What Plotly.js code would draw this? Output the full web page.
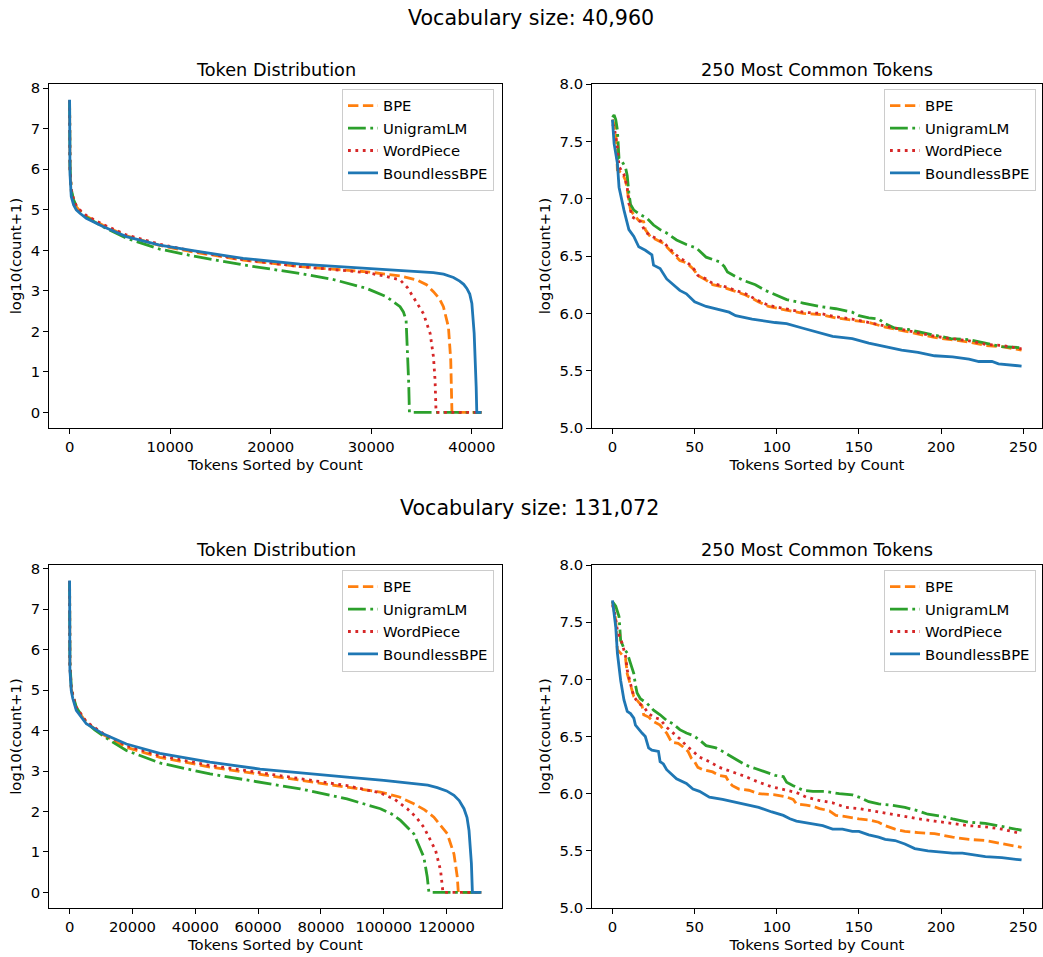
<!DOCTYPE html>
<html>
<head>
<meta charset="utf-8">
<script src="https://cdn.plot.ly/plotly-3.0.1.min.js"></script>
<style>
  html, body { margin: 0; padding: 0; background: #fff; }
  #chart { width: 1043px; height: 957px; }
</style>
</head>
<body>
<div id="chart"></div>
<script>
// ---------------- DATA ----------------
const seriesNames = ['BPE', 'UnigramLM', 'WordPiece', 'BoundlessBPE'];
const suptitles = ['Vocabulary size: 40,960', 'Vocabulary size: 131,072'];
const panelTitles = ['Token Distribution', '250 Most Common Tokens'];
const xLabel = 'Tokens Sorted by Count';
const yLabel = 'log10(count+1)';

// Vocabulary 40,960 - full token distribution
const v40_dist_bpe_x = [0,10,40,166,400,664,1000,1660,3320,5640,8960,12280,17260,22900,29550,32870,34530,35500,36190,36800,37180,37680,37910,38010,38030,40960];
const v40_dist_bpe_y = [7.7,6.7,6.0,5.45,5.22,5.08,4.98,4.84,4.62,4.36,4.12,3.96,3.76,3.60,3.47,3.37,3.27,3.15,2.98,2.80,2.61,2.11,1.29,0.21,0,0];
const v40_dist_uni_x = [0,10,40,166,400,664,1000,1660,3320,5640,8960,12280,17260,22900,26230,29550,31540,32870,33200,33470,33630,33730,33800,40960];
const v40_dist_uni_y = [7.7,6.7,6.1,5.5,5.25,5.1,4.98,4.82,4.58,4.30,4.03,3.86,3.64,3.43,3.28,3.06,2.85,2.61,2.48,2.28,1.53,0.71,0,0];
const v40_dist_wp_x  = [0,10,40,166,400,664,1000,1660,3320,5640,8960,12280,17260,22900,29550,31210,32870,33600,34200,35190,35860,36190,36350,36450,40960];
const v40_dist_wp_y  = [7.7,6.7,6.0,5.5,5.25,5.1,5.0,4.86,4.64,4.38,4.15,3.98,3.77,3.60,3.45,3.37,3.27,3.08,2.85,2.44,1.95,1.37,0.79,0,0];
const v40_dist_bbpe_x = [0,10,40,166,400,664,1000,1660,3320,5640,8960,12280,17260,22900,29550,33500,36190,37200,38180,38800,39200,39510,39800,40010,40240,40440,40500,40960];
const v40_dist_bbpe_y = [7.72,6.6,5.9,5.33,5.12,5.0,4.92,4.79,4.59,4.34,4.13,3.99,3.80,3.66,3.56,3.50,3.45,3.41,3.33,3.24,3.16,3.06,2.92,2.69,1.95,0.63,0,0];

// Vocabulary 40,960 - 250 most common tokens
const v40_top_bpe_x = [0,2,3,6,8,10,11,13,16,19,20,23,27,31,35,41,45,49,52,57,61,67,73,81,89,95,105,116,126,136,146,156,166,176,186,196,206,217,227,237,249];
const v40_top_bpe_y = [7.69,7.6,7.25,7.22,7.16,6.99,6.90,6.86,6.81,6.80,6.73,6.67,6.64,6.61,6.55,6.46,6.44,6.39,6.33,6.29,6.25,6.23,6.20,6.16,6.10,6.06,6.03,6.00,5.99,5.96,5.94,5.92,5.88,5.85,5.82,5.79,5.77,5.75,5.72,5.71,5.68];
const v40_top_uni_x = [0,1,2,3,4,6,8,9,10,11,13,15,17,21,25,29,33,39,45,51,57,65,68,70,75,81,87,93,99,106,116,126,136,146,150,156,162,166,172,180,186,196,206,217,227,237,249];
const v40_top_uni_y = [7.71,7.73,7.69,7.60,7.35,7.32,7.27,7.20,7.05,6.95,6.90,6.88,6.86,6.83,6.77,6.73,6.70,6.64,6.60,6.57,6.49,6.45,6.41,6.36,6.32,6.28,6.25,6.20,6.16,6.12,6.09,6.06,6.04,6.01,5.98,5.96,5.95,5.91,5.87,5.86,5.84,5.81,5.78,5.77,5.74,5.71,5.70];
const v40_top_wp_x  = [0,1,3,4,7,9,10,12,17,20,23,27,31,35,41,45,49,52,57,61,67,73,81,89,95,105,116,126,136,146,156,166,176,186,196,206,217,227,237,249];
const v40_top_wp_y  = [7.65,7.63,7.45,7.28,7.21,7.10,6.96,6.84,6.80,6.71,6.68,6.65,6.62,6.56,6.48,6.45,6.40,6.33,6.30,6.26,6.24,6.21,6.17,6.11,6.07,6.04,6.01,6.00,5.97,5.95,5.92,5.89,5.86,5.83,5.80,5.78,5.76,5.73,5.72,5.69];
const v40_top_bbpe_x = [0,1,3,4,7,10,13,16,20,24,25,29,33,37,41,45,50,57,65,71,75,85,99,106,116,126,134,146,156,166,176,186,196,207,217,223,231,235,249];
const v40_top_bbpe_y = [7.69,7.48,7.31,7.10,6.90,6.73,6.67,6.58,6.55,6.51,6.42,6.39,6.30,6.25,6.20,6.17,6.10,6.06,6.03,6.01,5.98,5.95,5.92,5.91,5.87,5.83,5.80,5.78,5.74,5.71,5.68,5.66,5.63,5.62,5.60,5.58,5.58,5.56,5.54];

// Vocabulary 131,072 - full token distribution
const v131_dist_bpe_x = [0,20,100,530,1000,2130,5320,10640,18080,28720,44680,60640,73400,88300,98940,105000,109570,113000,115950,120210,122340,123400,123720,131072];
const v131_dist_bpe_y = [7.7,6.5,5.6,5.05,4.85,4.55,4.2,3.90,3.59,3.34,3.10,2.92,2.77,2.60,2.48,2.36,2.19,2.04,1.86,1.45,0.95,0.38,0,0];
const v131_dist_uni_x = [0,20,100,530,1000,2130,5320,8000,12770,18080,28720,44680,60640,73400,88300,98940,102500,105320,109570,112760,113830,114360,131072];
const v131_dist_uni_y = [7.7,6.5,5.7,5.1,4.9,4.58,4.2,4.02,3.76,3.51,3.20,2.93,2.73,2.56,2.31,2.07,1.94,1.78,1.45,0.87,0.38,0,0];
const v131_dist_wp_x  = [0,20,100,530,1000,2130,5320,10640,18080,28720,44680,60640,73400,88300,98940,103500,107440,110300,112760,116480,118080,118830,131072];
const v131_dist_wp_y  = [7.7,6.5,5.6,5.08,4.88,4.58,4.22,3.93,3.63,3.38,3.14,2.96,2.81,2.64,2.46,2.30,2.07,1.86,1.61,1.04,0.54,0,0];
const v131_dist_bbpe_x = [0,20,100,530,1000,2130,5320,10640,18080,28720,44680,60640,73400,88300,100000,109570,114000,117020,120000,122340,124000,125530,126500,127130,127890,128200,131072];
const v131_dist_bbpe_y = [7.71,6.5,5.5,4.99,4.8,4.50,4.17,3.92,3.67,3.44,3.22,3.05,2.95,2.85,2.77,2.70,2.65,2.59,2.51,2.40,2.27,2.07,1.85,1.53,0.71,0,0];

// Vocabulary 131,072 - 250 most common tokens
const v131_top_bpe_x = [0,2,3,6,8,9,11,13,16,18,19,22,25,29,31,33,36,40,43,46,48,50,52,55,61,65,69,71,73,77,83,89,99,106,110,112,118,122,126,132,136,142,150,156,162,166,172,178,186,196,207,217,227,237,249];
const v131_top_bpe_y = [7.68,7.52,7.26,7.21,7.18,7.05,6.95,6.85,6.80,6.77,6.69,6.67,6.63,6.60,6.56,6.53,6.45,6.44,6.41,6.37,6.31,6.28,6.23,6.21,6.19,6.16,6.15,6.10,6.07,6.04,6.03,6.00,5.99,5.97,5.95,5.91,5.90,5.89,5.87,5.85,5.81,5.80,5.78,5.77,5.75,5.72,5.69,5.67,5.66,5.65,5.62,5.60,5.59,5.56,5.53];
const v131_top_uni_x = [0,2,4,5,7,9,11,13,14,15,17,21,25,29,33,37,41,45,49,53,57,63,67,73,77,81,87,93,99,104,106,110,116,122,130,138,146,150,156,162,170,178,186,192,201,207,217,227,237,249];
const v131_top_uni_y = [7.68,7.64,7.55,7.34,7.27,7.23,7.14,7.05,6.95,6.88,6.83,6.79,6.73,6.69,6.64,6.61,6.56,6.53,6.51,6.47,6.42,6.40,6.37,6.32,6.29,6.25,6.22,6.19,6.16,6.15,6.10,6.07,6.03,6.02,6.02,6.00,5.99,5.97,5.93,5.91,5.90,5.88,5.85,5.82,5.80,5.78,5.75,5.74,5.71,5.68];
const v131_top_wp_x  = [0,1,3,6,8,9,11,13,16,19,22,25,29,33,37,41,45,49,53,59,65,73,81,89,97,106,112,118,126,134,142,150,158,166,176,186,196,207,217,227,237,249];
const v131_top_wp_y  = [7.65,7.61,7.43,7.31,7.20,7.08,6.96,6.85,6.79,6.76,6.70,6.67,6.65,6.58,6.53,6.48,6.42,6.37,6.32,6.28,6.23,6.19,6.15,6.10,6.06,6.03,6.01,5.97,5.94,5.92,5.88,5.87,5.85,5.83,5.80,5.78,5.76,5.74,5.72,5.71,5.69,5.65];
const v131_top_bbpe_x = [0,2,3,4,5,7,9,11,13,14,16,18,20,21,22,24,28,29,31,33,36,39,45,49,53,59,67,73,81,89,97,104,108,112,120,128,134,140,146,150,156,162,166,172,178,184,192,201,207,213,221,227,237,243,249];
const v131_top_bbpe_y = [7.69,7.46,7.23,7.11,6.99,6.82,6.72,6.70,6.66,6.60,6.56,6.53,6.50,6.45,6.40,6.38,6.37,6.28,6.26,6.21,6.17,6.13,6.09,6.04,6.02,5.97,5.95,5.93,5.90,5.88,5.84,5.81,5.78,5.76,5.74,5.72,5.69,5.69,5.67,5.67,5.64,5.62,5.60,5.59,5.56,5.52,5.50,5.49,5.48,5.48,5.46,5.45,5.44,5.43,5.42];

// ---------------- STYLE ----------------
const FONT = 'DejaVu Sans, Verdana, sans-serif';
const W = 1043, H = 957;
const LW = 2.8;
const FS = 14.8, FS_TITLE = 17.7, FS_SUP = 20.6;
const styles = {
  'BPE':          {color: '#ff7f0e', dash: '10.4px,4.5px'},
  'UnigramLM':    {color: '#2ca02c', dash: '17.8px,4.5px,2.8px,4.5px'},
  'WordPiece':    {color: '#d62728', dash: '2.8px,4.6px'},
  'BoundlessBPE': {color: '#1f77b4', dash: 'solid'}
};

const panels = [
  {xa: 'x',  ya: 'y',  legend: 'legend',  data: [[v40_dist_bpe_x, v40_dist_bpe_y], [v40_dist_uni_x, v40_dist_uni_y], [v40_dist_wp_x, v40_dist_wp_y], [v40_dist_bbpe_x, v40_dist_bbpe_y]]},
  {xa: 'x2', ya: 'y2', legend: 'legend2', data: [[v40_top_bpe_x, v40_top_bpe_y], [v40_top_uni_x, v40_top_uni_y], [v40_top_wp_x, v40_top_wp_y], [v40_top_bbpe_x, v40_top_bbpe_y]]},
  {xa: 'x3', ya: 'y3', legend: 'legend3', data: [[v131_dist_bpe_x, v131_dist_bpe_y], [v131_dist_uni_x, v131_dist_uni_y], [v131_dist_wp_x, v131_dist_wp_y], [v131_dist_bbpe_x, v131_dist_bbpe_y]]},
  {xa: 'x4', ya: 'y4', legend: 'legend4', data: [[v131_top_bpe_x, v131_top_bpe_y], [v131_top_uni_x, v131_top_uni_y], [v131_top_wp_x, v131_top_wp_y], [v131_top_bbpe_x, v131_top_bbpe_y]]}
];

const traces = [];
panels.forEach((p, pi) => {
  p.data.forEach((d, si) => {
    const name = seriesNames[si];
    traces.push({
      type: 'scatter', mode: 'lines',
      x: d[0], y: d[1], name: name,
      xaxis: p.xa, yaxis: p.ya, legend: p.legend,
      legendgroup: 'p' + pi + 's' + si,
      line: {color: styles[name].color, dash: styles[name].dash, width: LW},
      hoverinfo: 'x+y+name'
    });
  });
});

const tickfont = {family: FONT, size: FS, color: '#000'};
function ax(extra) {
  return Object.assign({
    showline: true, mirror: true, linecolor: '#000', linewidth: 1,
    ticks: 'outside', ticklen: 4.9, tickwidth: 1, tickcolor: '#000',
    showgrid: false, zeroline: false, tickfont: tickfont, automargin: false
  }, extra);
}
const xT = (t) => ({text: t, font: {family: FONT, size: FS, color: '#000'}, standoff: 5});

const dxL = [49 / W, 502 / W];
const dxR = [592 / W, 1042 / W];
const dyT = [1 - 428 / H, 1 - 84 / H];
const dyB = [1 - 908 / H, 1 - 565 / H];

function legendAt(xr, ytop) {
  return {
    x: xr / W, y: 1 - ytop / H, xanchor: 'right', yanchor: 'top',
    bgcolor: 'rgba(255,255,255,0.8)', bordercolor: '#cccccc', borderwidth: 1,
    font: {family: FONT, size: FS, color: '#000'},
    traceorder: 'grouped', tracegroupgap: 0.2
  };
}

const ann = (text, px, py, size) => ({
  text: text, x: px / W, y: 1 - py / H, xref: 'paper', yref: 'paper',
  xanchor: 'center', yanchor: 'middle', showarrow: false,
  font: {family: FONT, size: size, color: '#000'}
});

const layout = {
  width: W, height: H,
  margin: {l: 0, r: 0, t: 0, b: 0},
  paper_bgcolor: '#fff', plot_bgcolor: '#fff',
  showlegend: true,
  xaxis:  ax({domain: dxL, anchor: 'y',  range: [-2048, 43008], tickvals: [0, 10000, 20000, 30000, 40000], tickformat: 'd', title: xT(xLabel)}),
  yaxis:  ax({domain: dyT, anchor: 'x',  range: [-0.386, 8.106], dtick: 1, tick0: 0, title: xT(yLabel)}),
  xaxis2: ax({domain: dxR, anchor: 'y2', range: [-12.45, 261.45], dtick: 50, tick0: 0, title: xT(xLabel)}),
  yaxis2: ax({domain: dyT, anchor: 'x2', range: [5, 8], dtick: 0.5, tick0: 5, tickformat: '.1f', title: xT(yLabel)}),
  xaxis3: ax({domain: dxL, anchor: 'y3', range: [-6553.6, 137625.6], tickvals: [0, 20000, 40000, 60000, 80000, 100000, 120000], tickformat: 'd', title: xT(xLabel)}),
  yaxis3: ax({domain: dyB, anchor: 'x3', range: [-0.3855, 8.0955], dtick: 1, tick0: 0, title: xT(yLabel)}),
  xaxis4: ax({domain: dxR, anchor: 'y4', range: [-12.45, 261.45], dtick: 50, tick0: 0, title: xT(xLabel)}),
  yaxis4: ax({domain: dyB, anchor: 'x4', range: [5, 8], dtick: 0.5, tick0: 5, tickformat: '.1f', title: xT(yLabel)}),
  legend:  legendAt(494, 88.5),
  legend2: legendAt(1036, 88.5),
  legend3: legendAt(494, 569.5),
  legend4: legendAt(1036, 569.5),
  annotations: [
    ann(suptitles[0], 531, 18.5, FS_SUP),
    ann(panelTitles[0], 275.5, 69.5, FS_TITLE),
    ann(panelTitles[1], 817, 69.5, FS_TITLE),
    ann(suptitles[1], 529, 508, FS_SUP),
    ann(panelTitles[0], 275.5, 549.5, FS_TITLE),
    ann(panelTitles[1], 817, 549.5, FS_TITLE)
  ]
};

Plotly.newPlot('chart', traces, layout, {displayModeBar: false, responsive: false, staticPlot: false});
</script>
</body>
</html>
